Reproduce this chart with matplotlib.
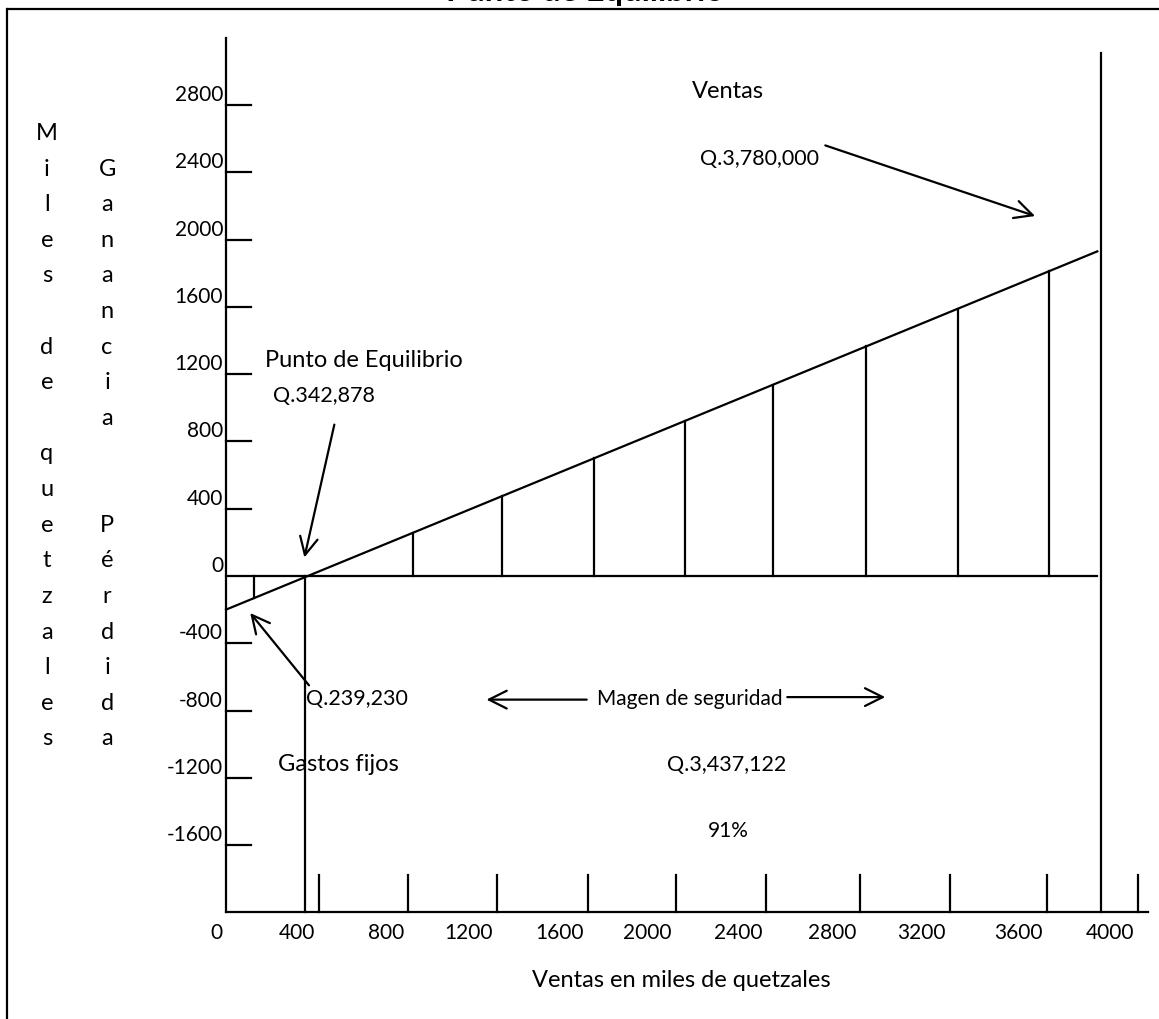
import matplotlib
matplotlib.use("Agg")
import matplotlib.pyplot as plt

plt.rcParams['font.family'] = ['Lato', 'DejaVu Sans']

# valores (miles de quetzales)
ventas_max = 3780
punto_equilibrio = 342.878
ganancia_en_cero = -200      # donde arranca la recta dibujada
ganancia_en_max = 1930       # donde termina la recta dibujada
y_min, y_max = -2000, 3200
y_top_ventas = 3110

y_ticks = [2800, 2400, 2000, 1600, 1200, 800, 400, -400, -800, -1200, -1600]
y_labels = ["2800", "2400", "2000", "1600", "1200", "800", "400", "0",
            "-400", "-800", "-1200", "-1600"]
y_label_vals = [2800, 2400, 2000, 1600, 1200, 800, 400, 0,
                -400, -800, -1200, -1600]

x_labels = ["0", "400", "800", "1200", "1600", "2000", "2400", "2800",
            "3200", "3600", "4000"]
# marcas del eje x tal como están dibujadas a mano
x_tick_marks = [403, 790, 1176, 1570, 1952, 2343, 2751, 3141, 3562, 3957]
x_label_pos = [0] + x_tick_marks

# líneas verticales de sombreado (ganancia / pérdida)
hatch_x = [121, 811, 1197, 1597, 1991, 2373, 2777, 3176, 3570]

col_miles = list("Miles") + [""] + list("de") + [""] + list("quetzales")
col_ganancia = [""] + list("Ganancia") + ["", ""] + list("Pérdida")

W, H = 1159, 1019
fig = plt.figure(figsize=(W / 100, H / 100), dpi=100)
ax = fig.add_axes([0, 0, 1, 1])
ax.set_xlim(-980.5, 4047.7)
ax.set_ylim(-2633.8, 3424.5)
ax.axis('off')

lw = 1.6
k = 'black'
fs_num = 15     # números
fs_q = 15.5     # montos Q.
fs_txt = 17     # palabras


def profit(x):
    slope = (ganancia_en_max - ganancia_en_cero) / ventas_max
    return ganancia_en_cero + slope * x


# marco exterior
ax.plot([8 / W, 1], [1 - 9 / H, 1 - 9 / H], color=k, lw=lw, transform=ax.transAxes, clip_on=False)
ax.plot([7 / W, 7 / W], [1 - 9 / H, 0], color=k, lw=lw, transform=ax.transAxes, clip_on=False)

# titulo (cortado arriba en la imagen original)
ax.text(1557, 3416, "Punto de Equilibrio", ha='center', va='baseline',
        fontsize=23.5, fontweight='bold')

# ejes
ax.plot([0, 0], [y_min, y_max], color=k, lw=lw)
ax.plot([0, 4000], [y_min, y_min], color=k, lw=lw)
ax.plot([0, ventas_max], [0, 0], color=k, lw=lw)

for v in y_ticks:
    ax.plot([0, 110], [v, v], color=k, lw=lw)
for lab, v in zip(y_labels, y_label_vals):
    ax.annotate(lab, (0, v), xytext=(-3, 4), textcoords='offset pixels',
                ha='right', va='baseline', fontsize=fs_num)

for x in x_tick_marks:
    ax.plot([x, x], [y_min, y_min + 220], color=k, lw=lw)
for lab, x in zip(x_labels, x_label_pos):
    ax.annotate(lab, (x, y_min), xytext=(-4, -27), textcoords='offset pixels',
                ha='right', va='baseline', fontsize=fs_num)

# recta de ganancia y sombreado
ax.plot([0, ventas_max], [profit(0), profit(ventas_max)], color=k, lw=lw)
for x in hatch_x:
    ax.plot([x, x], [0, profit(x)], color=k, lw=lw)

# punto de equilibrio y ventas
ax.plot([punto_equilibrio, punto_equilibrio], [0, y_min], color=k, lw=lw)
ax.plot([ventas_max + 15, ventas_max + 15], [y_min, y_top_ventas], color=k, lw=lw)

# textos
ax.text(2020, 2840, "Ventas", fontsize=fs_txt, va='baseline')
ax.text(2055, 2445, "Q.3,780,000", fontsize=fs_q, va='baseline')
ax.text(170, 1245, "Punto de Equilibrio", fontsize=fs_txt, va='baseline')
ax.text(205, 1035, "Q.342,878", fontsize=fs_q, va='baseline')
ax.text(345, -765, "Q.239,230", fontsize=fs_q, va='baseline')
ax.text(1610, -765, "Magen de seguridad", fontsize=15, va='baseline')
ax.text(225, -1160, "Gastos fijos", fontsize=fs_txt, va='baseline')
ax.text(1915, -1160, "Q.3,437,122", fontsize=fs_q, va='baseline')
ax.text(2090, -1550, "91%", fontsize=fs_num, va='baseline')
ax.text(1975, -2445, "Ventas en miles de quetzales", fontsize=fs_txt, ha='center', va='baseline')

arrow = dict(arrowstyle='->', lw=lw, color=k, mutation_scale=32, shrinkA=0, shrinkB=0)
ax.annotate("", xy=(3510, 2140), xytext=(2600, 2560), arrowprops=arrow)
ax.annotate("", xy=(340, 110), xytext=(470, 900), arrowprops=arrow)
ax.annotate("", xy=(105, -220), xytext=(360, -650), arrowprops=arrow)
ax.annotate("", xy=(1130, -735), xytext=(1565, -735), arrowprops=arrow)
ax.annotate("", xy=(2860, -720), xytext=(2435, -720), arrowprops=arrow)

# etiquetas verticales letra por letra
for i, ch in enumerate(col_miles):
    ax.text(-777, 2592 - 211.7 * i, ch, fontsize=fs_txt, ha='center', va='baseline')
for i, ch in enumerate(col_ganancia):
    ax.text(-516, 2592 - 211.7 * i, ch, fontsize=fs_txt, ha='center', va='baseline')

fig.savefig("out.png", dpi=100)
